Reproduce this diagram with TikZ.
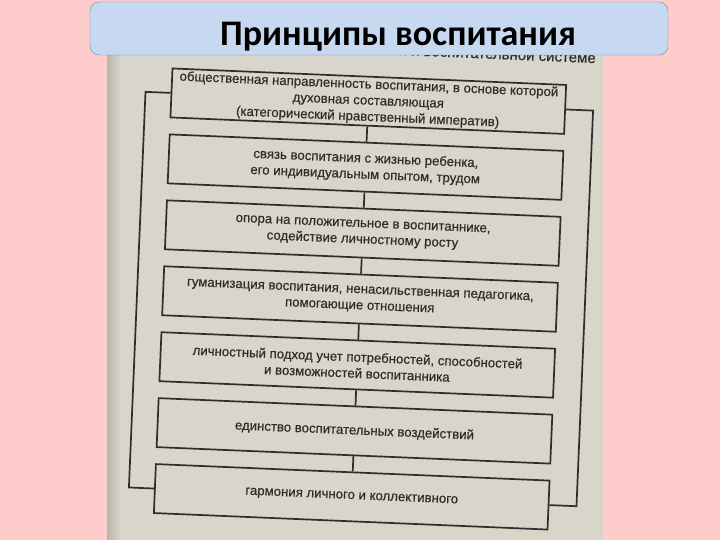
\documentclass[tikz,border=0pt]{standalone}
\usepackage{fontspec}
\setmainfont{Liberation Sans}
\newfontfamily\scanfont[FakeBold=0.5]{Liberation Sans}
\newfontfamily\titlefont{Carlito}
\definecolor{slidepink}{RGB}{255,204,204}
\definecolor{scangray}{RGB}{217,213,202}
\definecolor{inkgray}{RGB}{45,45,42}
\definecolor{titleblue}{RGB}{198,217,241}
\definecolor{titleline}{RGB}{115,130,155}

\begin{document}
\begin{tikzpicture}[x=1pt,y=-1pt,
  principle/.style={draw=inkgray,line width=1.7pt,minimum width=394pt,minimum height=49pt,
    inner sep=0.5pt,align=center,text=inkgray,font=\scanfont\fontsize{13.2}{16.2}\selectfont},
  link/.style={draw=inkgray,line width=1.7pt}]

  \useasboundingbox (0,0) rectangle (720,540);
  \fill[slidepink] (0,0) rectangle (720,540);
  \fill[scangray] (107,20) rectangle (603,540);
  \shade[left color=scangray!85!black,right color=scangray] (107,20) rectangle (121,540);

  % scanned scheme, slightly turned
  \begin{scope}[rotate around={-2.4:(360,299)},transform shape]
  \node[anchor=east,text=inkgray,font=\scanfont\fontsize{15}{17}\selectfont] (caption) at (589,48)
    {ской и воспитательной системе};

  \node[principle] (1) at (360,101) {общественная направленность воспитания, в основе которой\\
    духовная составляющая\\ (категорический нравственный императив)};
  \node[principle] (2) at (360,167) {связь воспитания с жизнью ребенка,\\ его индивидуальным опытом, трудом};
  \node[principle] (3) at (360,233) {опора на положительное в воспитаннике,\\ содействие личностному росту};
  \node[principle] (4) at (360,299) {гуманизация воспитания, ненасильственная педагогика,\\ помогающие отношения};
  \node[principle] (5) at (360,365) {личностный подход учет потребностей, способностей\\ и возможностей воспитанника};
  \node[principle] (6) at (360,431) {единство воспитательных воздействий};
  \node[principle] (7) at (360,497) {гармония личного и коллективного};

  \coordinate (l1) at (137,101);
  \coordinate (l7) at (137,497);
  \coordinate (r1) at (585,101);
  \coordinate (r7) at (585,497);

  \path[link]
    (1) edge (2)
    (2) edge (3)
    (3) edge (4)
    (4) edge (5)
    (5) edge (6)
    (6) edge (7);
  \draw[link] (1.west) -- (l1) -- (l7) -- (7.west);
  \draw[link] (1.east) -- (r1) -- (r7) -- (7.east);
  \end{scope}

  % slide title
  \node[draw=titleline,fill=titleblue,rounded corners=9pt,minimum width=578pt,minimum height=53pt]
    (titlebox) at (379,28.5) {};
  \node[anchor=base,font=\titlefont\bfseries\fontsize{36}{40}\selectfont] (title) at (398,46)
    {Принципы воспитания};
\end{tikzpicture}
\end{document}
